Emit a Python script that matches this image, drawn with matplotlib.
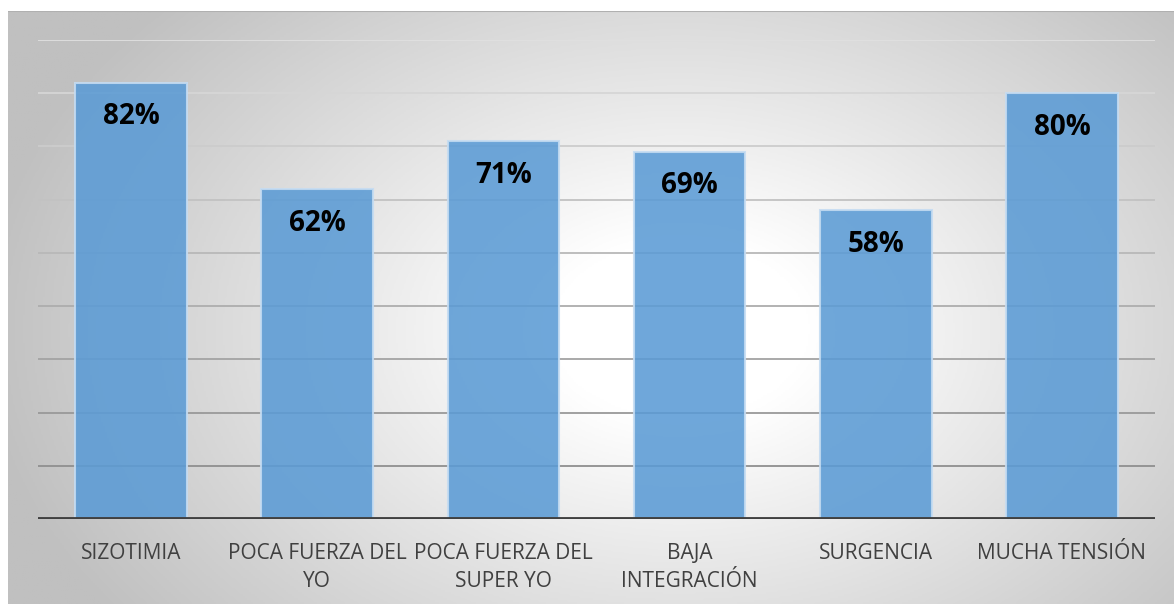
import numpy as np
import matplotlib.pyplot as plt
from matplotlib.colors import LinearSegmentedColormap

# datos
categorias = ['SIZOTIMIA', 'POCA FUERZA DEL\nYO', 'POCA FUERZA DEL\nSUPER YO',
              'BAJA\nINTEGRACIÓN', 'SURGENCIA', 'MUCHA TENSIÓN']
porcentajes = [0.82, 0.62, 0.71, 0.69, 0.58, 0.80]
etiquetas = ['82%', '62%', '71%', '69%', '58%', '80%']

W, H = 1174, 604
fig = plt.figure(figsize=(W / 100, H / 100), dpi=100)

# fondo con degradado radial (blanco al centro, gris en los bordes)
bg = fig.add_axes([8 / W, 0, 1 - 8 / W, (H - 11) / H])
gx, gy = np.meshgrid(np.linspace(8, W, 600), np.linspace(11, H, 300))
r = np.hypot((gx - 680) / 640, (gy - 330) / 440)
r = np.clip((r - 0.2) / 0.9, 0, 1)
cmap = LinearSegmentedColormap.from_list('fondo', ['#ffffff', '#c0c0c0'])
bg.imshow(r, cmap=cmap, aspect='auto', extent=[0, 1, 0, 1], vmin=0, vmax=1)
bg.plot([0, 1], [1, 1], color='#b0b0b0', lw=1.5, transform=bg.transAxes)
bg.set_axis_off()

ax = fig.add_axes([38 / W, (H - 519) / H, (1155 - 38) / W, (519 - 40) / H])
ax.patch.set_alpha(0)

x = np.arange(len(categorias))
ax.set_ylim(0, 0.9)
ax.set_xlim(-0.5, len(categorias) - 0.5)

# líneas de cuadrícula, más oscuras hacia abajo
yt = np.arange(0.1, 0.91, 0.1)
for v in yt:
    t = v / 0.9
    g = 0.52 + 0.36 * t
    ax.axhline(v, color=(g, g, g), lw=1.3, zorder=1)

ax.bar(x, porcentajes, width=0.6, color='#5b9bd5', alpha=0.88,
       edgecolor='#c5dcf2', linewidth=1.5, zorder=2)

for xi, p, lab in zip(x, porcentajes, etiquetas):
    ax.text(xi, p - 0.064, lab, ha='center', va='center', fontsize=20,
            fontweight='bold', family='Open Sans', color='black', zorder=3)

ax.axhline(0, color='#404040', lw=3.5, zorder=4)

ax.set_xticks(x)
ax.set_xticklabels(categorias, fontsize=15, family='Open Sans', color='#404040',
                   linespacing=1.45)
ax.tick_params(axis='x', length=0, pad=17)
ax.set_yticks([])
for s in ax.spines.values():
    s.set_visible(False)

fig.savefig('out.png', dpi=100)
